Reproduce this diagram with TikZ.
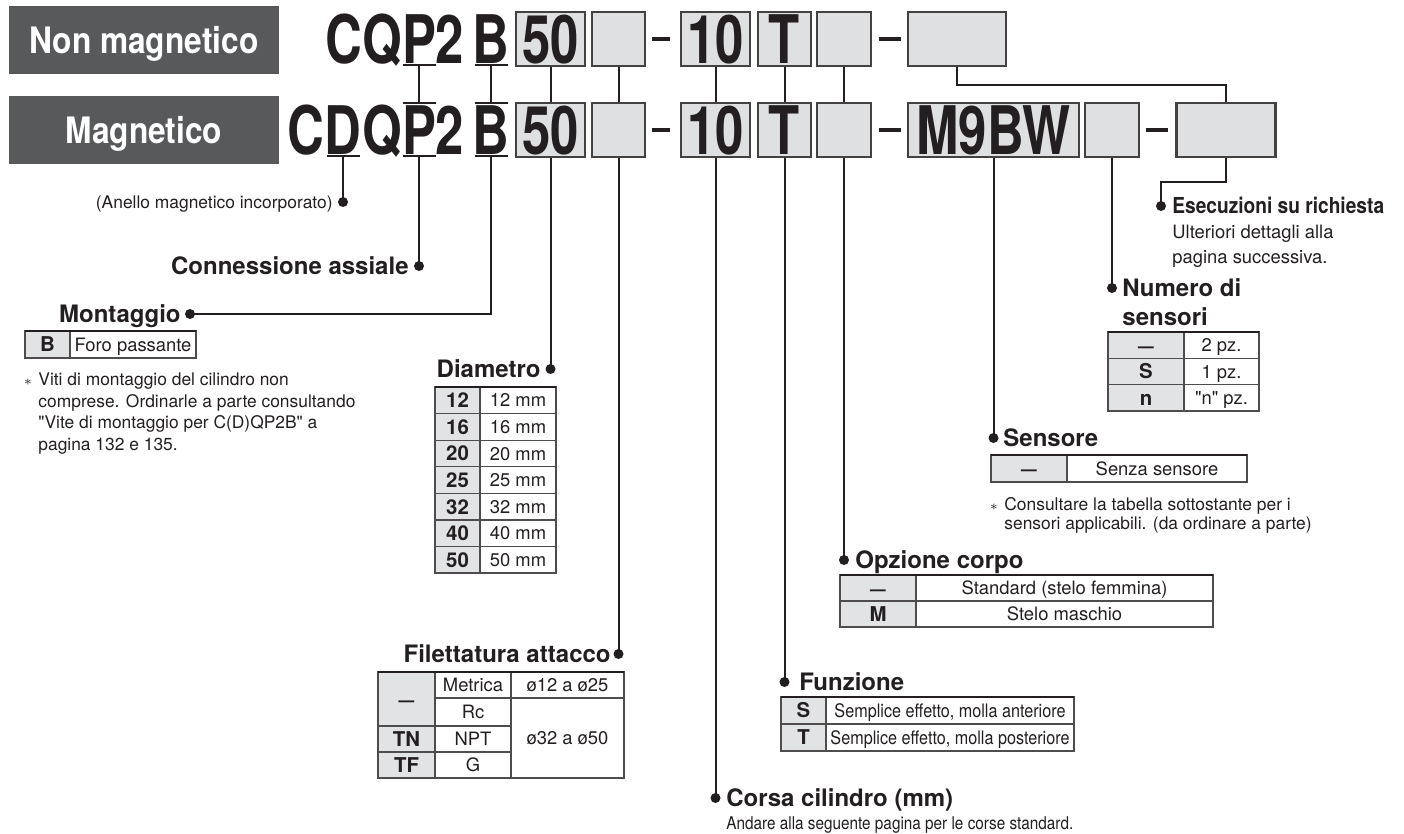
\documentclass[tikz,border=0pt]{standalone}
\usepackage{fontspec}
\setmainfont{TeX Gyre Heros}
\newfontfamily\codefont[FakeStretch=0.76]{TeX Gyre Heros}
\newfontfamily\narrowfont[FakeStretch=0.87]{TeX Gyre Heros}
\definecolor{ink}{HTML}{231F20}
\definecolor{boxgray}{HTML}{DFE0E2}
\definecolor{keygray}{HTML}{E2E3E5}
\definecolor{taggray}{HTML}{58595B}
\newcommand{\nokey}{{\narrowfont\bfseries\fontsize{9}{10}\selectfont —}}
\newcommand{\smallast}{{\scriptsize$\ast$}}

\tikzset{
  code/.style={font=\codefont\bfseries\fontsize{33.5}{34}\selectfont, text=ink,
    inner xsep=0pt, inner ysep=1pt, text height=24.1pt, text depth=0pt},
  codebox/.style={code, draw=ink!85, line width=1.1pt, fill=boxgray, minimum height=27pt},
  tag/.style={fill=taggray, text=white, font=\narrowfont\bfseries\fontsize{18.2}{20}\selectfont,
    minimum width=135pt, minimum height=34pt, text height=13.1pt, text depth=0pt},
  head/.style={font=\bfseries\fontsize{12}{14}\selectfont, text=ink, inner sep=0pt,
    text height=8.6pt, text depth=0pt},
  note/.style={font=\fontsize{8.7}{10}\selectfont, text=ink, inner sep=0pt,
    text height=6.3pt, text depth=0pt},
  cell/.style={font=\fontsize{9.2}{11}\selectfont, text=ink, inner sep=0pt,
    text height=6.6pt, text depth=0pt},
  key/.style={font=\bfseries\fontsize{10.2}{12}\selectfont, text=ink, inner sep=0pt,
    text height=7.3pt, text depth=0pt},
  link/.style={draw=ink, line width=1pt},
  dashbar/.style={draw=ink, line width=1.8pt},
  tabline/.style={draw=ink!80, line width=0.6pt},
  tabtop/.style={draw=ink, line width=1.1pt},
}

\begin{document}
\begin{tikzpicture}[x=0.5pt,y=-0.5pt]
  \useasboundingbox (0,0) rectangle (1404,834);

  % tags
  \node[tag] (nonmag) at (144,40) {Non magnetico};
  \node[tag] (mag) at (144,130) {Magnetico};

  % model letters
  \foreach \n/\x in {C/344,Q/382,P/419,2/450,B/491}
    \node[code] (t\n) at (\x,39) {\n};
  \foreach \n/\x in {C/306,D/343,Q/382,P/419,2/450,B/491}
    \node[code] (m\n) at (\x,130) {\n};

  % code boxes
  \foreach \r/\y in {t/39,m/130}
    {
      \node[codebox, minimum width=34.5pt] (\r-bore) at (550.5,\y) {50};
      \node[codebox, minimum width=26.5pt] (\r-port) at (618.5,\y) {};
      \node[codebox, minimum width=34.5pt] (\r-stroke) at (715.5,\y) {10};
      \node[codebox, minimum width=26.5pt] (\r-func) at (784.5,\y) {T};
      \node[codebox, minimum width=27pt] (\r-body) at (844,\y) {};
      \draw[dashbar] (652,\y) -- (670,\y);
      \draw[dashbar] (879,\y) -- (901,\y);
    }
  \node[codebox, minimum width=49pt] (t-mto) at (957,39) {};
  \node[codebox, minimum width=85.5pt] (m-sens) at (993.5,130) {M9BW};
  \node[codebox, minimum width=27pt] (m-num) at (1112,130) {};
  \draw[dashbar] (1146,130) -- (1168,130);
  \node[codebox, minimum width=49.5pt] (m-mto) at (1226,130) {};

  % links between the two rows
  \foreach \n in {P,B}
    {
      \draw[link] (t\n.south) ++(-16.5,0) -- ++(33,0);
      \draw[link] (m\n.north) ++(-16.5,0) -- ++(33,0);
      \draw[link] (t\n.south) -- (m\n.north);
    }
  \foreach \n in {D,P,B}
    \draw[link] (m\n.south) ++(-16.5,0) -- ++(33,0);
  \foreach \n in {bore,port,stroke,func,body}
    \draw[link] (t-\n.south) -- (m-\n.north);
  \draw[link] (t-mto.south) -- ++(0,18) -| (m-mto.north);

  % dots
  \coordinate (dAnello) at (343,202);
  \coordinate (dConn) at (419,266);
  \coordinate (dMont) at (190,314);
  \coordinate (dDiam) at (550.5,369);
  \coordinate (dFil) at (618.5,654);
  \coordinate (dCorsa) at (715.5,798);
  \coordinate (dFunz) at (784.5,682);
  \coordinate (dOpz) at (844,560);
  \coordinate (dSens) at (993.5,438);
  \coordinate (dNum) at (1112,288);
  \coordinate (dEsec) at (1161,206);

  \draw[link] (mD.south) -- (dAnello);
  \draw[link] (mP.south) -- (dConn);
  \draw[link] (mB.south) |- (dMont);
  \draw[link] (m-bore.south) -- (dDiam);
  \draw[link] (m-port.south) -- (dFil);
  \draw[link] (m-stroke.south) -- (dCorsa);
  \draw[link] (m-func.south) -- (dFunz);
  \draw[link] (m-body.south) -- (dOpz);
  \draw[link] (m-sens.south) -- (dSens);
  \draw[link] (m-num.south) -- (dNum);
  \draw[link] (m-mto.south) -- ++(0,24) -| (dEsec);
  \foreach \d in {dAnello,dConn,dMont,dDiam,dFil,dCorsa,dFunz,dOpz,dSens,dNum,dEsec}
    \fill[ink] (\d) circle (2.5pt);

  % labels
  \node[note, anchor=east] (anello) at (333,202) {(Anello magnetico incorporato)};
  \node[head, anchor=east] (conn) at (409,266) {Connessione assiale};
  \node[head, anchor=east] (mont) at (181,314) {Montaggio};
  \node[head, anchor=east] (diam) at (541,369) {Diametro};
  \node[head, anchor=east] (filett) at (611,654) {Filettatura attacco};
  \node[head, anchor=west] (corsa) at (726,798) {Corsa cilindro (mm)};
  \node[note, anchor=west, font=\narrowfont\fontsize{8.8}{10}\selectfont] (corsanote) at (726,823) {Andare alla seguente pagina per le corse standard.};
  \node[head, anchor=west] (funz) at (799,682) {Funzione};
  \node[head, anchor=west] (opz) at (855,560) {Opzione corpo};
  \node[head, anchor=west] (sens) at (1003,438) {Sensore};
  \node[head, anchor=west] (num) at (1122,288) {Numero di};
  \node[head, anchor=west] (num2) at (1122,317) {sensori};
  \node[head, anchor=west, font=\narrowfont\bfseries\fontsize{11}{13}\selectfont, text height=7.9pt] (esec) at (1172,206) {Esecuzioni su richiesta};
  \node[cell, anchor=west] (esecnote1) at (1172,232) {Ulteriori dettagli alla};
  \node[cell, anchor=west] (esecnote2) at (1172,257) {pagina successiva.};

  % Montaggio
  \fill[keygray] (25,331) rectangle (70,358);
  \draw[tabline] (25,331) rectangle (196,358) (70,331) -- (70,358);
  \draw[tabtop] (25,331) -- (196,331);
  \node[key] (montB) at (47.5,344.5) {B};
  \node[cell] (montFP) at (133,344.5) {Foro passante};
  \node[note] (montast) at (28,379) {\smallast};
  \foreach \t [count=\i from 0] in {Viti di montaggio del cilindro non,comprese. Ordinarle a parte consultando,\textquotedbl Vite di montaggio per C(D)QP2B\textquotedbl\ a,pagina 132 e 135.}
    \node[note, anchor=west] (montnote\i) at (38,{379+\i*21.8}) {\t};

  % Diametro
  \fill[keygray] (435,387) rectangle (480,573);
  \foreach \k [count=\i from 0] in {12,16,20,25,32,40,50}
    {
      \draw[tabline] (435,{387+\i*26.6}) -- ++(121,0);
      \node[key] (diamk\i) at (457.5,{400.3+\i*26.6}) {\k};
      \node[cell] (diamv\i) at (518,{400.3+\i*26.6}) {\k\ mm};
    }
  \draw[tabline] (435,387) rectangle (556,573) (480,387) -- (480,573);
  \draw[tabtop] (435,387) -- (556,387);

  % Filettatura attacco
  \fill[keygray] (378,672) rectangle (435,778);
  \draw[tabline] (378,672) rectangle (624,778) (435,672) -- (435,778) (511,672) -- (511,778);
  \draw[tabline] (378,726) -- (511,726) (378,752) -- (511,752) (435,698) -- (624,698);
  \draw[tabtop] (378,672) -- (624,672);
  \node[key] (filk1) at (406.5,699) {\nokey};
  \node[key] (filk2) at (406.5,739) {TN};
  \node[key] (filk3) at (406.5,765) {TF};
  \foreach \t/\y [count=\i] in {Metrica/685,Rc/712,NPT/739,G/765}
    \node[cell] (filv\i) at (473,\y) {\t};
  \node[cell] (filr1) at (567.5,685) {ø12 a ø25};
  \node[cell] (filr2) at (567.5,738) {ø32 a ø50};

  % Funzione
  \fill[keygray] (781,697) rectangle (826,751);
  \draw[tabline] (781,697) rectangle (1074,751) (826,697) -- (826,751) (781,724) -- (1074,724);
  \draw[tabtop] (781,697) -- (1074,697);
  \node[key] (funzk1) at (803.5,710.5) {S};
  \node[key] (funzk2) at (803.5,737.5) {T};
  \node[cell, font=\narrowfont\fontsize{9.3}{11}\selectfont] (funzv1) at (950,710.5) {Semplice effetto, molla anteriore};
  \node[cell, font=\narrowfont\fontsize{9.3}{11}\selectfont] (funzv2) at (950,737.5) {Semplice effetto, molla posteriore};

  % Opzione corpo
  \fill[keygray] (840,575) rectangle (916,627);
  \draw[tabline] (840,575) rectangle (1213,627) (916,575) -- (916,627) (840,601) -- (1213,601);
  \draw[tabtop] (840,575) -- (1213,575);
  \node[key] (opzk1) at (878,588) {\nokey};
  \node[key] (opzk2) at (878,614) {M};
  \node[cell] (opzv1) at (1064.5,588) {Standard (stelo femmina)};
  \node[cell] (opzv2) at (1064.5,614) {Stelo maschio};

  % Sensore
  \fill[keygray] (991,455) rectangle (1067,482);
  \draw[tabline] (991,455) rectangle (1247,482) (1067,455) -- (1067,482);
  \draw[tabtop] (991,455) -- (1247,455);
  \node[key] (sensk) at (1029,468.5) {\nokey};
  \node[cell] (sensv) at (1157,468.5) {Senza sensore};
  \node[note] (sensast) at (994,504) {\smallast};
  \node[note, anchor=west] (sensnote1) at (1004,504) {Consultare la tabella sottostante per i};
  \node[note, anchor=west] (sensnote2) at (1004,523.5) {sensori applicabili. (da ordinare a parte)};

  % Numero di sensori
  \fill[keygray] (1108,332) rectangle (1184,411);
  \foreach \k/\v [count=\i from 0] in {\nokey/2 pz.,S/1 pz.,n/\textquotedbl n\textquotedbl\ pz.}
    {
      \draw[tabline] (1108,{332+\i*26.3}) -- ++(151,0);
      \node[key] (numk\i) at (1146,{345.2+\i*26.3}) {\k};
      \node[cell] (numv\i) at (1221.5,{345.2+\i*26.3}) {\v};
    }
  \draw[tabline] (1108,332) rectangle (1259,411) (1184,332) -- (1184,411);
  \draw[tabtop] (1108,332) -- (1259,332);
\end{tikzpicture}
\end{document}
